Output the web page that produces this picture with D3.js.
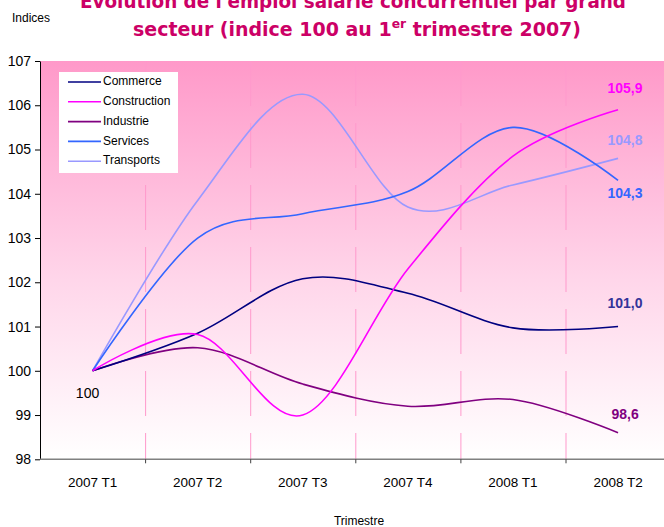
<!DOCTYPE html>
<html>
<head>
<meta charset="utf-8">
<script src="https://cdn.jsdelivr.net/npm/d3@7/dist/d3.min.js"></script>
<style>
  html, body { margin: 0; padding: 0; background: #ffffff; }
  svg { display: block; }
</style>
</head>
<body>
<svg id="chart" width="664" height="527"></svg>
<script>
// ---- data ----
const categories = ["2007 T1", "2007 T2", "2007 T3", "2007 T4", "2008 T1", "2008 T2"];
const seriesNames = ["Commerce", "Construction", "Industrie", "Services", "Transports"];
const commerce     = [100, 100.85, 102.08, 101.75, 100.97, 101.0];
const construction = [100, 100.82, 99.0, 102.3, 104.85, 105.9];
const industrie    = [100, 100.52, 99.7, 99.2, 99.35, 98.6];
const services     = [100, 103.0, 103.55, 104.05, 105.5, 104.3];
const transports   = [100, 103.85, 106.25, 103.7, 104.2, 104.8];
const endLabels    = ["101,0", "105,9", "98,6", "104,3", "104,8"];
const startLabel   = "100";
const yTicks       = [98, 99, 100, 101, 102, 103, 104, 105, 106, 107];

// ---- style ----
const lineColors  = ["#000080", "#ff00ff", "#800080", "#3366ff", "#9999ff"];
const labelColors = ["#333399", "#ff00ff", "#800080", "#3366ff", "#9999ff"];
const labelDy     = [-22, -20, -17, 14, -17];

(function () {
const svg = d3.select("#chart");
const mLeft = 40, mTop = 61, mBottom = 459.3, step = 105.1;
const mRight = mLeft + step * categories.length;

const x = d3.scaleBand().domain(categories).range([mLeft, mRight]).paddingInner(0).paddingOuter(0);
const xc = c => x(c) + x.bandwidth() / 2;
const y = d3.scaleLinear().domain([98, 107]).range([mBottom, mTop]);

// gradient background
const defs = svg.append("defs");
const grad = defs.append("linearGradient").attr("id", "bg").attr("x1", 0).attr("y1", 0).attr("x2", 0).attr("y2", 1);
grad.append("stop").attr("offset", "0%").attr("stop-color", "#ff99c9");
grad.append("stop").attr("offset", "55%").attr("stop-color", "#ffd6ea");
grad.append("stop").attr("offset", "100%").attr("stop-color", "#ffffff");

svg.append("rect").attr("x", mLeft).attr("y", mTop).attr("width", mRight - mLeft).attr("height", mBottom - mTop)
  .attr("fill", "url(#bg)");

// vertical dashed gridlines at band boundaries
svg.append("g").selectAll("line").data(categories.slice(1)).join("line")
  .attr("x1", d => x(d) + 0.5).attr("x2", d => x(d) + 0.5)
  .attr("y1", mTop).attr("y2", mBottom)
  .attr("stroke", "#ff99cc").attr("stroke-width", 1)
  .attr("stroke-dasharray", "45,17");

// title
const title = svg.append("g").attr("font-family", "'DejaVu Sans Condensed', 'DejaVu Sans', sans-serif")
  .attr("font-weight", "bold").attr("font-size", 20).attr("fill", "#cc0066").attr("text-anchor", "middle");
title.append("text").attr("x", 353).attr("y", 8)
  .attr("textLength", 546).attr("lengthAdjust", "spacingAndGlyphs")
  .text("Evolution de l'emploi salarié concurrentiel par grand");
const t2 = title.append("text").attr("x", 357).attr("y", 36)
  .attr("textLength", 448).attr("lengthAdjust", "spacingAndGlyphs");
t2.append("tspan").text("secteur (indice 100 au 1");
t2.append("tspan").attr("font-size", 13).attr("dy", -8).text("er");
t2.append("tspan").attr("dy", 8).text(" trimestre 2007)");

// Indices label
svg.append("text").attr("x", 12).attr("y", 22).attr("font-family", "'Liberation Sans', Arial, sans-serif")
  .attr("font-size", 12).attr("fill", "#000").text("Indices");

// y axis
const yAxis = svg.append("g").attr("transform", `translate(${mLeft},0)`)
  .call(d3.axisLeft(y).tickValues(yTicks).tickSize(5).tickSizeOuter(0).tickPadding(4).tickFormat(d3.format("d")));
yAxis.select(".domain").attr("stroke", "#000");
yAxis.selectAll(".tick line").attr("stroke", "#000");
yAxis.selectAll("text").attr("font-family", "'Liberation Sans', Arial, sans-serif").attr("font-size", 14).attr("fill", "#000");

// x axis
const xg = svg.append("g");
xg.append("line").attr("x1", mLeft).attr("x2", 664).attr("y1", mBottom).attr("y2", mBottom)
  .attr("stroke", "#808080").attr("stroke-width", 1.5);
xg.selectAll("line.tk").data(categories.slice(1)).join("line").attr("class", "tk")
  .attr("x1", d => x(d) + 0.5).attr("x2", d => x(d) + 0.5).attr("y1", mBottom).attr("y2", mBottom + 4)
  .attr("stroke", "#404040");
xg.selectAll("text").data(categories).join("text")
  .attr("x", d => xc(d)).attr("y", 487).attr("text-anchor", "middle")
  .attr("font-family", "'Liberation Sans', Arial, sans-serif").attr("font-size", 13.5).attr("fill", "#000")
  .text(d => d);
svg.append("text").attr("x", 359).attr("y", 525).attr("text-anchor", "middle")
  .attr("font-family", "'Liberation Sans', Arial, sans-serif").attr("font-size", 12).attr("fill", "#000")
  .text("Trimestre");

// lines
const allSeries = [commerce, construction, industrie, services, transports];
const line = d3.line().x((d, i) => xc(categories[i])).y(d => y(d)).curve(d3.curveCardinal.tension(0));
const order = [4, 3, 2, 0, 1];
order.forEach(k => {
  svg.append("path").datum(allSeries[k]).attr("d", line)
    .attr("fill", "none").attr("stroke", lineColors[k]).attr("stroke-width", 1.6);
});

// end labels
allSeries.forEach((s, k) => {
  const last = s.length - 1;
  svg.append("text").attr("x", xc(categories[last]) + 7).attr("y", y(s[last]) + labelDy[k])
    .attr("text-anchor", "middle").attr("dominant-baseline", "middle")
    .attr("font-family", "'Liberation Sans', Arial, sans-serif").attr("font-weight", "bold")
    .attr("font-size", 14).attr("fill", labelColors[k]).text(endLabels[k]);
});
// start label
svg.append("text").attr("x", xc(categories[0]) - 5).attr("y", y(commerce[0]) + 24)
  .attr("text-anchor", "middle").attr("dominant-baseline", "middle")
  .attr("font-family", "'Liberation Sans', Arial, sans-serif").attr("font-size", 14).attr("fill", "#000")
  .text(startLabel);

// legend
const lg = svg.append("g");
lg.append("rect").attr("x", 59).attr("y", 72).attr("width", 119).attr("height", 101).attr("fill", "#ffffff");
seriesNames.forEach((n, i) => {
  const yy = 82 + i * 19.8;
  lg.append("line").attr("x1", 68).attr("x2", 101).attr("y1", yy).attr("y2", yy)
    .attr("stroke", lineColors[i]).attr("stroke-width", 1.6);
  lg.append("text").attr("x", 103).attr("y", yy).attr("dominant-baseline", "middle")
    .attr("font-family", "'Liberation Sans', Arial, sans-serif").attr("font-size", 12).attr("fill", "#000")
    .text(n);
});
})();
</script>
</body>
</html>
